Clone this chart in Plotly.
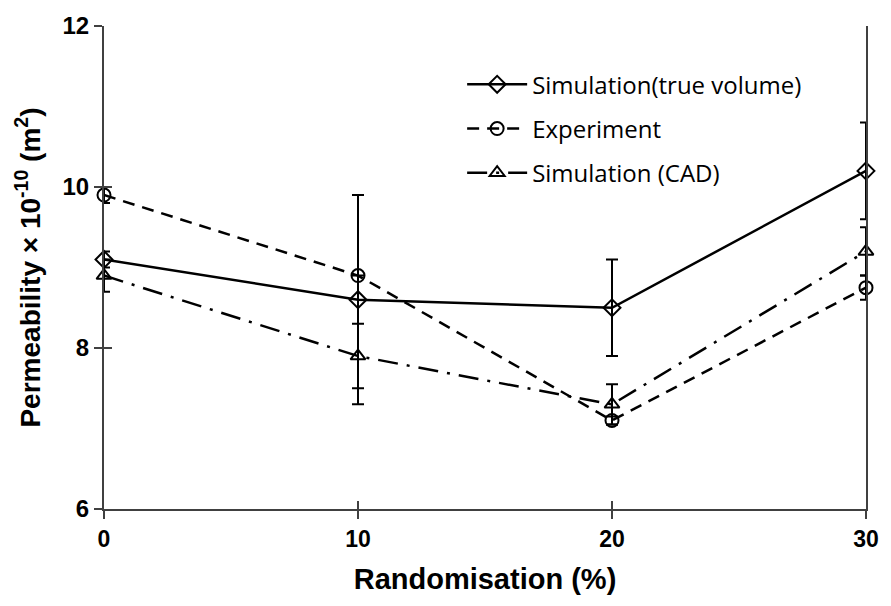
import plotly.graph_objects as go

# Randomisation levels (%)
randomisation = [0, 10, 20, 30]

# Permeability (x 1e-10 m^2) and error bar half-widths
sim_true = [9.1, 8.6, 8.5, 10.2]
sim_true_err = [0.1, 1.3, 0.6, 0.6]

experiment = [9.9, 8.9, 7.1, 8.75]
experiment_err = [0.1, 0.0, 0.05, 0.15]

sim_cad = [8.9, 7.9, 7.3, 9.2]
sim_cad_err = [0.2, 0.4, 0.25, 0.3]

x_ticks = [0, 10, 20, 30]
y_ticks = [6, 8, 10, 12]

BLACK = "#000000"
AXIS = "#404040"

series = [
    ("Simulation(true volume)", sim_true, sim_true_err, "solid", "diamond-open"),
    ("Experiment", experiment, experiment_err, "12px,8px", "circle-open"),
    ("Simulation (CAD)", sim_cad, sim_cad_err, "20px,9px,3px,9px", "triangle-up-open"),
]

fig = go.Figure()
for i, (name, vals, errs, dash, symbol) in enumerate(series):
    fig.add_trace(go.Scatter(
        x=randomisation, y=vals, name=name, mode="lines+markers",
        legendgroup=f"g{i}",
        line=dict(color=BLACK, width=2.5, dash=dash),
        marker=dict(symbol=symbol, size=13, color=BLACK, line=dict(width=2, color=BLACK)),
        error_y=dict(type="data", array=errs, visible=True, color=BLACK,
                     thickness=2, width=6),
        cliponaxis=False,
    ))

axis_common = dict(showgrid=False, zeroline=False, showline=True,
                   linecolor=AXIS, linewidth=2, tickcolor=AXIS, tickwidth=1.5, ticklen=8)

fig.update_layout(
    width=891, height=606,
    margin=dict(l=104, r=15, t=18, b=97),
    paper_bgcolor="white", plot_bgcolor="white",
    showlegend=True,
    legend=dict(x=0.47, y=0.925, xanchor="left", yanchor="top",
                bgcolor="rgba(0,0,0,0)", borderwidth=0,
                font=dict(family="Open Sans", size=24, color=BLACK),
                tracegroupgap=10, itemwidth=60),
    xaxis=dict(range=[0, 30], tickvals=x_ticks, ticks="outside",
               tickfont=dict(family="Liberation Sans", size=23, color=BLACK, weight="bold"),
               title=dict(text="<b>Randomisation (%)</b>", standoff=18,
                          font=dict(family="Liberation Sans", size=29, color=BLACK)),
               **axis_common),
    yaxis=dict(range=[6, 12], tickvals=y_ticks, ticks="outside",
               tickfont=dict(family="Liberation Sans", size=24, color=BLACK, weight="bold"),
               title=dict(text="<b>Permeability × 10<sup>-10</sup> (m<sup>2</sup>)</b>", standoff=14,
                          font=dict(family="Liberation Sans", size=28, color=BLACK)),
               mirror=True,
               **axis_common),
    # overlay axes provide the inner half of the crossing tick marks
    xaxis2=dict(range=[0, 30], tickvals=x_ticks, ticks="inside", showticklabels=False,
                overlaying="x", matches="x", showgrid=False, zeroline=False, showline=False,
                tickcolor=AXIS, tickwidth=1.5, ticklen=8),
    yaxis2=dict(range=[6, 12], tickvals=y_ticks, ticks="inside", showticklabels=False,
                overlaying="y", matches="y", showgrid=False, zeroline=False, showline=False,
                tickcolor=AXIS, tickwidth=1.5, ticklen=8),
)

# invisible trace to bring the overlay axes into the figure
fig.add_trace(go.Scatter(x=[None], y=[None], xaxis="x2", yaxis="y2",
                         showlegend=False, hoverinfo="skip"))

fig.write_html("out.html")
